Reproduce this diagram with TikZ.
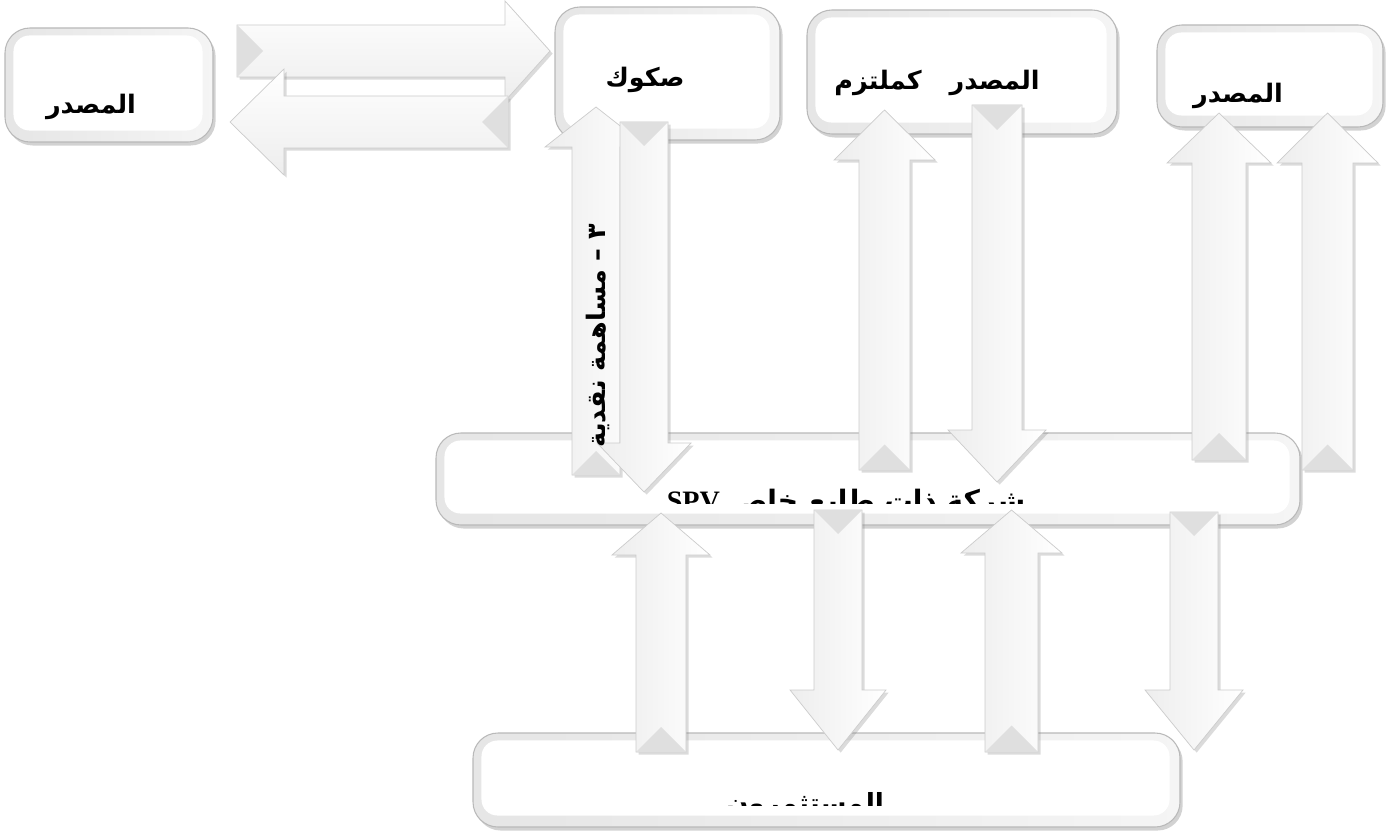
\documentclass[tikz,border=0pt]{standalone}
\usepackage{fontspec}
\setmainfont{DejaVu Sans}
\newfontfamily\arabicfont[Script=Arabic]{DejaVu Sans}
\newfontfamily\latinserif{Liberation Serif}
\TeXXeTstate=1
\usetikzlibrary{shadows,fit,positioning}
\tikzset{
  plate/.style={draw=gray!55, line width=0.6pt, rounded corners=0.5cm, inner sep=0pt,
    left color=gray!20, right color=gray!8,
    drop shadow={shadow xshift=1.5pt, shadow yshift=-2pt, opacity=0.35}},
  face/.style={fill=white, rounded corners=0.32cm},
  blk/.style={draw=gray!40, line width=0.4pt, left color=gray!14, right color=white,
    drop shadow={shadow xshift=1.5pt, shadow yshift=-1.5pt, opacity=0.28}},
  hblk/.style={draw=gray!40, line width=0.4pt, top color=white, bottom color=gray!14,
    drop shadow={shadow xshift=1.5pt, shadow yshift=-1.5pt, opacity=0.28}},
  bevel/.style={fill=gray!25, draw=none},
  lbl/.style={font=\arabicfont\bfseries\fontsize{14.5}{16}\selectfont, inner sep=0pt},
}
% vertical block arrow: left, right, tail, head base, head extension, tip
\newcommand{\vblock}[6]{%
  \pgfmathsetmacro\vmid{(#1+#2)/2}
  \pgfmathsetmacro\vdir{(#6>#3) ? 1 : -1}
  \pgfmathsetmacro\vnotch{#3+\vdir*0.5*(#2-#1)}
  \path[blk] (#1,#3) -- (#1,#4) -- ({#1-#5},#4) -- (\vmid,#6) -- ({#2+#5},#4) -- (#2,#4) -- (#2,#3) -- cycle;
  \path[bevel] (#1,#3) -- (\vmid,\vnotch) -- (#2,#3) -- cycle;
}
% horizontal block arrow: top, bottom, tail, head base, head extension, tip
\newcommand{\hblock}[6]{%
  \pgfmathsetmacro\hmid{(#1+#2)/2}
  \pgfmathsetmacro\hdir{(#6>#3) ? 1 : -1}
  \pgfmathsetmacro\hnotch{#3+\hdir*0.5*(#2-#1)}
  \path[hblk] (#3,#1) -- (#4,#1) -- (#4,{#1-#5}) -- (#6,\hmid) -- (#4,{#2+#5}) -- (#4,#2) -- (#3,#2) -- cycle;
  \path[bevel] (#3,#1) -- (\hnotch,\hmid) -- (#3,#2) -- cycle;
}
\begin{document}
\begin{tikzpicture}[x=0.02cm, y=-0.02cm]
\fill[white] (0,0) rectangle (1395,834);
\useasboundingbox (0,0) rectangle (1395,834);
% --- boxes
\foreach \nm/\xa/\ya/\xb/\yb in {srcL/5/28/213/142, sukuk/555/7/780/140, issuer/807/10/1117/134,
    srcR/1157/25/1383/127, spv/436/433/1300/525, inv/473/733/1180/827}{
  \node[plate, fit={(\xa,\ya) (\xb,\yb)}] (\nm) {};
  \path[face] ([shift={(9,8)}]\nm.north west) rectangle ([shift={(-11,-12)}]\nm.south east);
}
% --- block arrows
\hblock{25}{77}{237}{505}{24}{550}
\hblock{96}{148}{508}{284}{27}{230}
\foreach \l/\r/\t/\b/\e/\p in {572/620/475/147/27/107, 620/668/122/443/23/492,
    859/910/470/160/25/110, 972/1022/105/430/24/482, 1192/1246/460/163/25/113,
    1302/1353/470/163/25/113, 636/686/752/555/24/513, 814/862/510/690/24/750,
    985/1038/752/553/24/510, 1170/1218/512/690/25/750}{
  \vblock{\l}{\r}{\t}{\b}{\e}{\p}
}
% --- labels
\node[lbl] (tSrcL) at (91,107) {\beginR المصدر\endR};
\node[lbl] (tSukuk) at (645,80) {\beginR صكوك\endR};
\node[lbl] (tIssuer) at (937,83) {\beginR المصدر\hspace{1.1em}كملتزم\endR};
\node[lbl] (tSrcR) at (1238,96) {\beginR المصدر\endR};
\node[lbl, rotate=90] (tCash) at (598,336) {\beginR ٣ – مساهمة نقدية\endR};
\begin{scope}
  \clip (436,433) rectangle (1300,503);
  \node[lbl, anchor=base, font=\arabicfont\bfseries\fontsize{16}{18}\selectfont] (tSpv) at (846,510)
    {\beginR شركة ذات طابع خاص \beginL{\latinserif\bfseries SPV}\endL\endR};
\end{scope}
\begin{scope}
  \clip (473,733) rectangle (1180,805);
  \node[lbl, anchor=base, font=\arabicfont\bfseries\fontsize{15}{17}\selectfont] (tInv) at (805,812)
    {\beginR المستثمرون\endR};
\end{scope}
\end{tikzpicture}
\end{document}
